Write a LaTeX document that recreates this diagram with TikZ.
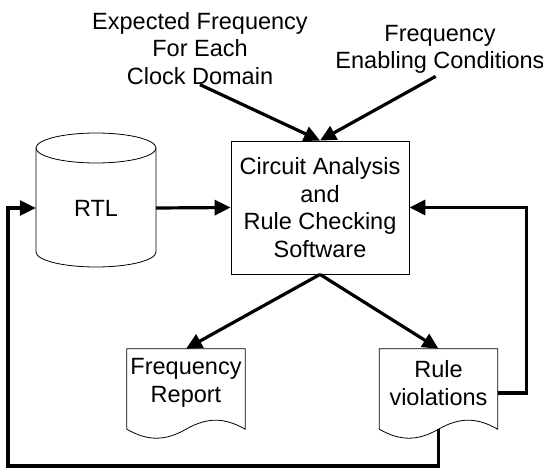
\documentclass[tikz,border=0pt]{standalone}
\usepackage{fontspec}
\setmainfont{Liberation Sans}
\usepackage{tikz}
\usetikzlibrary{arrows.meta, positioning, calc}
\tikzset{
    flow/.style={
        line width=3.2pt,
        -{Triangle[length=16pt,width=15pt]},
    },
    outline/.style={
        draw,
        line width=0.8pt,
    },
    txt/.style={
        align=center,
        inner sep=0pt,
        font=\fontsize{23.5pt}{27.5pt}\selectfont,
    },
    docnode/.style={
        txt,
        minimum width=118pt,
        minimum height=68pt,
    },
}

\begin{document}
\begin{tikzpicture}[x=1pt,y=-1pt]

\useasboundingbox (0,0) rectangle (543,468);

% inputs
\node[txt,anchor=north] (expfreq) at (200,12) {Expected Frequency\\For Each\\Clock Domain};
\node[txt,anchor=north] (enable) at (440,25) {Frequency\\Enabling Conditions};

% software
\node[txt,outline,minimum width=178pt,minimum height=133pt] (soft) at (320,207.5) {Circuit Analysis\\and\\Rule Checking\\Software};

% database
\node[txt,minimum width=120pt] (rtl) at (96,208) {RTL};
\draw[outline] ($(rtl)+(0,-60)$) ellipse [x radius=60, y radius=15];
\draw[outline] ($(rtl)+(-60,-60)$) -- ($(rtl)+(-60,44)$)
    .. controls ($(rtl)+(-60,52.3)$) and ($(rtl)+(-33,59)$) .. ($(rtl)+(0,59)$)
    .. controls ($(rtl)+(33,59)$) and ($(rtl)+(60,52.3)$) .. ($(rtl)+(60,44)$)
    -- ($(rtl)+(60,-60)$);

% documents
\node[docnode] (report) at (186,383) {Frequency\\Report};
\node[docnode] (viol) at (438.5,383) {Rule\\violations};
\foreach \d in {report,viol}
    \draw[outline] ($(\d.south west)+(0,12)$) -- (\d.north west) -- (\d.north east) -- ($(\d.south east)+(0,12)$)
        .. controls ($(\d.south east)+(-21,0)$) and ($(\d.south)+(21,0)$) .. ($(\d.south)+(0,12)$)
        .. controls ($(\d.south)+(-21,24)$) and ($(\d.south west)+(21,24)$) .. cycle;

\coordinate (corner) at (8,466);

\draw[flow] (expfreq.south) -- (soft.north);
\draw[flow,shorten <=5pt] (enable.south) -- (soft.north);
\draw[flow] (rtl.east) -- (soft.west);
\draw[flow] (soft.south) -- (report.north);
\draw[flow] (soft.south) -- (viol.north);
\draw[flow] ([yshift=-10pt]viol.east) -- ++(29,0) |- (soft.east);
\draw[flow] ($(viol.south)+(0,12)$) |- (corner) |- (rtl.west);

\end{tikzpicture}
\end{document}
